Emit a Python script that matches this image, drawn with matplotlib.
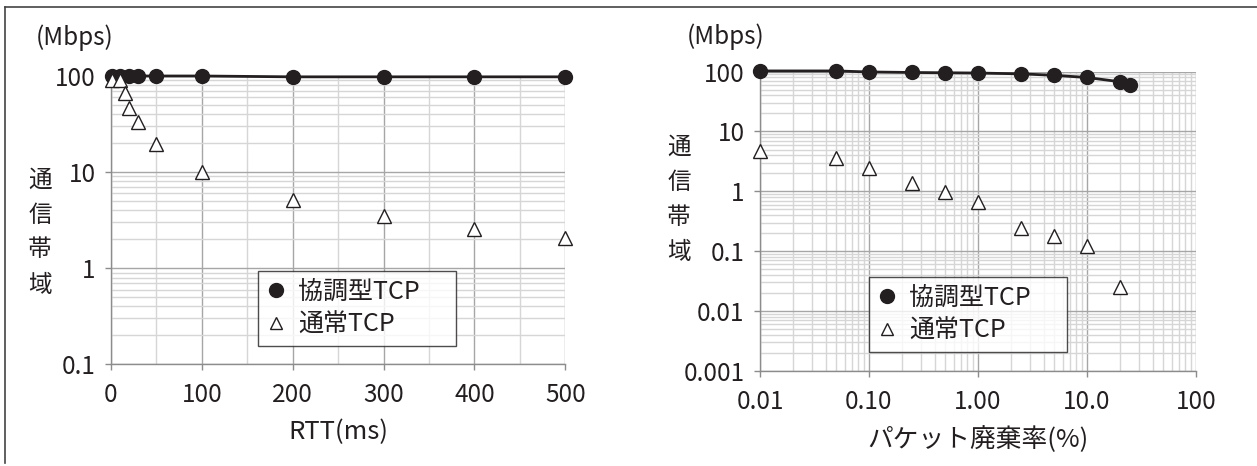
import matplotlib
matplotlib.use("Agg")
import matplotlib.pyplot as plt
from matplotlib.lines import Line2D
from matplotlib.ticker import LogLocator, MultipleLocator, NullFormatter

plt.rcParams['font.family'] = ['Noto Sans CJK JP', 'DejaVu Sans']

# left panel: bandwidth vs RTT
rtt_coop = [1, 10, 20, 30, 50, 100, 200, 300, 400, 500]
bw_coop_rtt = [100, 100, 100, 100, 100, 100, 98, 98, 98, 98]
rtt_std = [1, 10, 15, 20, 30, 50, 100, 200, 300, 400, 500]
bw_std_rtt = [91, 90, 66, 47, 33, 19.7, 10, 5.1, 3.5, 2.55, 2.05]

# right panel: bandwidth vs packet loss
loss_coop = [0.01, 0.05, 0.1, 0.25, 0.5, 1, 2.5, 5, 10, 20, 25]
bw_coop_loss = [103, 103, 99, 97, 96, 95, 92, 87, 80, 68, 60]
loss_std = [0.01, 0.05, 0.1, 0.25, 0.5, 1, 2.5, 5, 10, 20]
bw_std_loss = [4.8, 3.6, 2.5, 1.36, 0.96, 0.65, 0.24, 0.18, 0.12, 0.025]

rtt_ticks = [0, 100, 200, 300, 400, 500]
rtt_labels = ['0', '100', '200', '300', '400', '500']
rtt_yticks = [0.1, 1, 10, 100]
rtt_ylabels = ['0.1', '1', '10', '100']
loss_ticks = [0.01, 0.1, 1, 10, 100]
loss_labels = ['0.01', '0.10', '1.00', '10.0', '100']
loss_yticks = [0.001, 0.01, 0.1, 1, 10, 100]
loss_ylabels = ['0.001', '0.01', '0.1', '1', '10', '100']

name_coop = '協調型TCP'
name_std = '通常TCP'
ylab_chars = ['通', '信', '帯', '域']

INK = '#231f20'
W, H = 1257, 466
fig = plt.figure(figsize=(W / 100, H / 100), dpi=100)

# outer frame (top and left only)
fig.add_artist(Line2D([5 / W, 1], [1 - 7 / H, 1 - 7 / H], color='#444444', lw=1.2))
fig.add_artist(Line2D([5 / W, 5 / W], [1 - 7 / H, 1 - 463 / H], color='#444444', lw=1.2))


def style(ax):
    ax.set_axisbelow(True)
    for s in ['top', 'right']:
        ax.spines[s].set_visible(False)
    for s in ['left', 'bottom']:
        ax.spines[s].set_color('#8c8c8c')
        ax.spines[s].set_linewidth(1.0)
    ax.grid(which='major', color='#a6a6a6', lw=1.0)
    ax.grid(which='minor', color='#d6d6d6', lw=1.0)
    ax.tick_params(which='major', length=4, width=1, color='#8c8c8c',
                   labelsize=17.5, labelcolor=INK)
    ax.tick_params(which='minor', length=0)
    ax.tick_params(axis='x', pad=9)
    ax.tick_params(axis='y', pad=7)


def draw(ax, xc, yc, xs, ys, box):
    ax.plot(xc, yc, color=INK, lw=2, marker='o', ms=10,
            mfc=INK, mec=INK, clip_on=False, zorder=4)
    ax.plot(xs, ys, ls='none', marker='^', ms=10, mfc='white', mec=INK,
            mew=1.0, clip_on=False, zorder=5)
    h1 = Line2D([], [], ls='none', marker='o', ms=10, mfc=INK, mec=INK)
    h2 = Line2D([], [], ls='none', marker='^', ms=8, mfc='white', mec=INK, mew=1.0)
    leg = ax.legend([h1, h2], [name_coop, name_std], loc='upper left',
                    bbox_to_anchor=box, mode='expand', borderaxespad=0,
                    fontsize=18, frameon=True, fancybox=False, handlelength=0.8,
                    handletextpad=0.5, borderpad=0.3, labelspacing=0.3)
    leg.get_frame().set_edgecolor(INK)
    leg.get_frame().set_linewidth(1.0)
    for t in leg.get_texts():
        t.set_color(INK)


# left axes
ax1 = fig.add_axes([110.9 / W, 1 - 364.3 / H, (565.3 - 110.9) / W, (364.3 - 76) / H])
ax1.set_yscale('log')
ax1.set_xlim(0, 500)
ax1.set_ylim(0.1, 100)
style(ax1)
ax1.set_xticks(rtt_ticks, rtt_labels)
ax1.xaxis.set_minor_locator(MultipleLocator(50))
ax1.set_yticks(rtt_yticks, rtt_ylabels)
ax1.yaxis.set_minor_locator(LogLocator(base=10, subs=range(2, 10)))
ax1.yaxis.set_minor_formatter(NullFormatter())
draw(ax1, rtt_coop, bw_coop_rtt, rtt_std, bw_std_rtt, (0.324, 0.0774, 0.4357, 0.246))
ax1.set_xlabel('RTT(ms)', fontsize=18.5, color=INK, labelpad=8)

# right axes
ax2 = fig.add_axes([760 / W, 1 - 370.7 / H, (1196 - 760) / W, (370.7 - 71.7) / H])
ax2.set_xscale('log')
ax2.set_yscale('log')
ax2.set_xlim(0.01, 100)
ax2.set_ylim(0.001, 100)
style(ax2)
ax2.set_xticks(loss_ticks, loss_labels)
ax2.xaxis.set_minor_locator(LogLocator(base=10, subs=range(2, 10)))
ax2.xaxis.set_minor_formatter(NullFormatter())
ax2.set_yticks(loss_yticks, loss_ylabels)
ax2.yaxis.set_minor_locator(LogLocator(base=10, subs=range(2, 10)))
ax2.yaxis.set_minor_formatter(NullFormatter())
draw(ax2, loss_coop, bw_coop_loss, loss_std, bw_std_loss, (0.25, 0.069, 0.454, 0.244))
ax2.set_xlabel('パケット廃棄率(%)', fontsize=18.5, color=INK, labelpad=8)

# units and stacked y labels
fig.text(75 / W, 1 - 38 / H, '(Mbps)', fontsize=17.5, color=INK, ha='center', va='center')
fig.text(726 / W, 1 - 37 / H, '(Mbps)', fontsize=17.5, color=INK, ha='center', va='center')
for i, ch in enumerate(ylab_chars):
    fig.text(40 / W, 1 - (180 + 35 * i) / H, ch, fontsize=17, color=INK,
             ha='center', va='center')
    fig.text(679 / W, 1 - (147 + 35.3 * i) / H, ch, fontsize=17, color=INK,
             ha='center', va='center')

fig.savefig('out.png', dpi=100)
